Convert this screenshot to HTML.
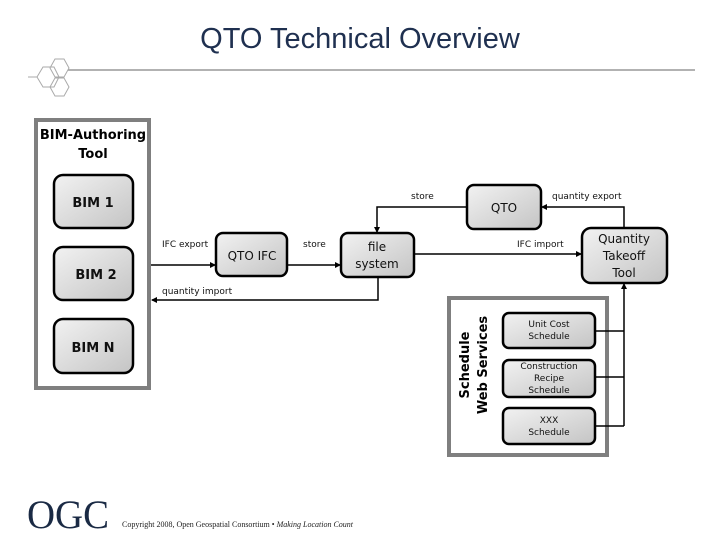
<!DOCTYPE html>
<html><head><meta charset="utf-8"><style>
html,body{margin:0;padding:0;background:#fff}
svg text{font-family:"DejaVu Sans","Liberation Sans",sans-serif}
</style></head><body>
<svg width="720" height="540" viewBox="0 0 720 540" xmlns="http://www.w3.org/2000/svg">
<defs>
<linearGradient id="g" x1="0" y1="0" x2="1" y2="1">
<stop offset="0" stop-color="#f2f2f2"/><stop offset="1" stop-color="#c4c4c4"/>
</linearGradient>
<marker id="a" markerWidth="6" markerHeight="6" refX="5" refY="3" orient="auto" markerUnits="userSpaceOnUse">
<path d="M0,0 L6,3 L0,6 z" fill="#000"/></marker>
</defs>
<text x="360" y="48" text-anchor="middle" font-size="29" fill="#1f3050" style="font-family:'Liberation Sans',sans-serif">QTO Technical Overview</text>
<line x1="68" y1="70" x2="695" y2="70" stroke="#999" stroke-width="1.5"/>
<g fill="none" stroke="#aaa" stroke-width="1">
<polygon points="37,77 43,67 54,67 59,77 54,87 43,87"/>
<polygon points="50,68 55,59 64,59 69,68 64,77 55,77"/>
<polygon points="50,87 55,78 64,78 69,87 64,96 55,96"/>
<line x1="28" y1="77" x2="37" y2="77"/>
</g>
<rect x="36" y="120" width="113" height="268" fill="none" stroke="#7f7f7f" stroke-width="4"/>
<text x="93" y="139" text-anchor="middle" font-size="13" font-weight="bold">BIM-Authoring</text>
<text x="93" y="158" text-anchor="middle" font-size="13" font-weight="bold">Tool</text>
<rect x="449" y="298" width="158" height="157" fill="none" stroke="#7f7f7f" stroke-width="4"/>
<text transform="translate(469,365) rotate(-90)" text-anchor="middle" font-size="13" font-weight="bold">Schedule</text>
<text transform="translate(487,365) rotate(-90)" text-anchor="middle" font-size="13" font-weight="bold">Web Services</text>
<g stroke="#000" stroke-width="2.5" fill="url(#g)">
<rect x="54" y="175" width="79" height="53" rx="9"/>
<rect x="54" y="247" width="79" height="53" rx="9"/>
<rect x="54" y="319" width="79" height="54" rx="9"/>
<rect x="216" y="233" width="71" height="43" rx="7"/>
<rect x="341" y="233" width="73" height="44" rx="7"/>
<rect x="467" y="185" width="74" height="44" rx="7"/>
<rect x="582" y="228" width="85" height="55" rx="9"/>
<rect x="503" y="313" width="92" height="35" rx="6"/>
<rect x="503" y="360" width="92" height="37" rx="6"/>
<rect x="503" y="408" width="92" height="36" rx="6"/>
</g>
<g font-size="13" text-anchor="middle" font-weight="bold" fill="#111">
<text x="93" y="207">BIM 1</text>
<text x="96" y="279">BIM 2</text>
<text x="93" y="352">BIM N</text>
</g>
<g font-size="12" text-anchor="middle" fill="#111">
<text x="252" y="260">QTO IFC</text>
<text x="377" y="251">file</text>
<text x="377" y="268">system</text>
<text x="504" y="212">QTO</text>
<text x="624" y="243">Quantity</text>
<text x="624" y="260">Takeoff</text>
<text x="624" y="277">Tool</text>
</g>
<g font-size="9" text-anchor="middle" fill="#111">
<text x="549" y="327">Unit Cost</text>
<text x="549" y="339">Schedule</text>
<text x="549" y="369">Construction</text>
<text x="549" y="381">Recipe</text>
<text x="549" y="393">Schedule</text>
<text x="549" y="423">XXX</text>
<text x="549" y="435">Schedule</text>
</g>
<g font-size="9" fill="#111">
<text x="162" y="247">IFC export</text>
<text x="303" y="247">store</text>
<text x="411" y="199">store</text>
<text x="552" y="199">quantity export</text>
<text x="517" y="247">IFC import</text>
<text x="162" y="294">quantity import</text>
</g>
<g stroke="#000" stroke-width="1.5" fill="none">
<line x1="151" y1="265" x2="215" y2="265" marker-end="url(#a)"/>
<line x1="288" y1="265" x2="340" y2="265" marker-end="url(#a)"/>
<line x1="415" y1="254" x2="581" y2="254" marker-end="url(#a)"/>
<polyline points="378,278 378,300 152,300" marker-end="url(#a)"/>
<polyline points="467,207 377,207 377,232" marker-end="url(#a)"/>
<polyline points="624,228 624,207 542,207" marker-end="url(#a)"/>
<polyline points="624,426 624,284" marker-end="url(#a)"/>
<line x1="596" y1="331" x2="624" y2="331"/>
<line x1="596" y1="377" x2="624" y2="377"/>
<line x1="596" y1="426" x2="624" y2="426"/>
</g>
<text x="27" y="528" font-size="40" fill="#1a2a44" style="font-family:'Liberation Serif',serif" textLength="82" lengthAdjust="spacingAndGlyphs">OGC</text>
<text x="122" y="527" font-size="8" fill="#222" style="font-family:'Liberation Serif',serif">Copyright 2008, Open Geospatial Consortium • <tspan font-style="italic">Making Location Count</tspan></text>
</svg>
</body></html>
